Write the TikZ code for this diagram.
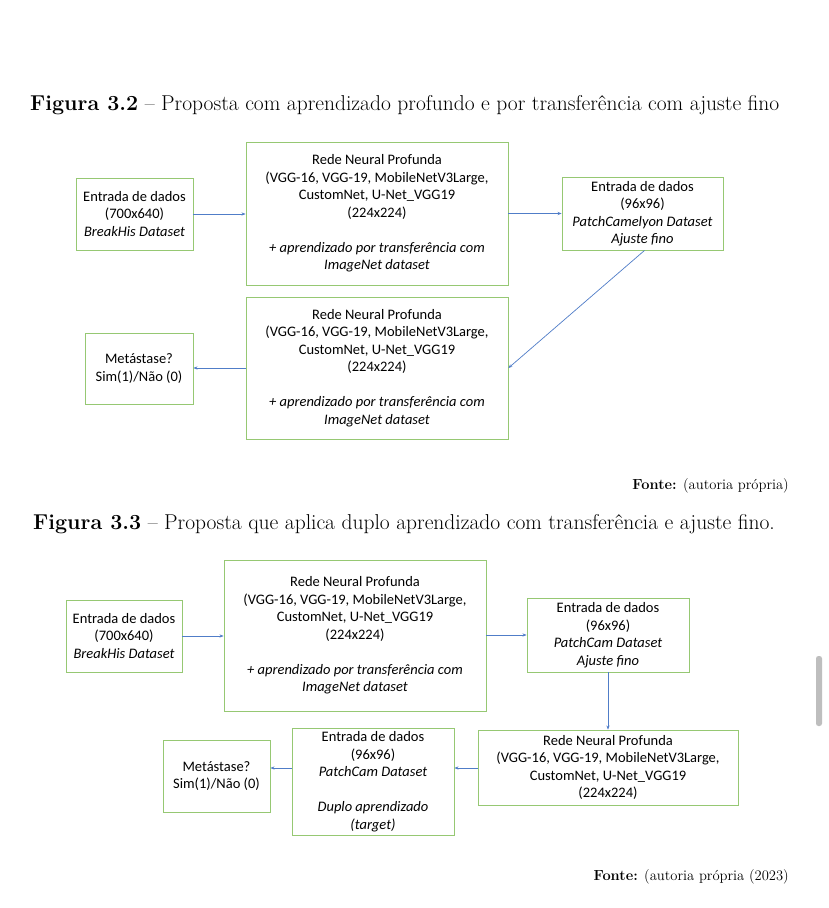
\documentclass[tikz,border=0pt]{standalone}
\usepackage{fontspec}
\newfontfamily\boxfont{Carlito}
\usetikzlibrary{arrows.meta}
\definecolor{boxgreen}{RGB}{150,200,115}
\definecolor{arrblue}{RGB}{80,125,200}
\definecolor{scrollgray}{RGB}{190,190,190}
\tikzset{
  box/.style={draw=boxgreen, line width=0.9pt, align=center, font=\boxfont\fontsize{14.5}{17.5}\selectfont, inner sep=0pt, anchor=center},
  conn/.style={draw=arrblue, line width=0.7pt, -{Stealth[length=4pt,width=3.2pt]}},
  caption/.style={font=\fontsize{21.5}{24}\selectfont, anchor=base west, inner sep=0pt},
  source/.style={font=\fontsize{14.6}{16}\selectfont, anchor=base east, inner sep=0pt}
}
\begin{document}
\begin{tikzpicture}[x=1pt,y=-1pt]
\useasboundingbox (0,0) rectangle (828,908);
\fill[white] (0,0) rectangle (828,908);

% Figure 3.2
\node[caption] (cap1) at (30,110) {\textbf{Figura 3.2} -- Proposta com aprendizado profundo e por transferência com ajuste fino};

\node[box, minimum width=117pt, minimum height=72pt] (A1) at (134.5,214) {Entrada de dados\\(700x640)\\\textit{BreakHis Dataset}};
\node[box, minimum width=262pt, minimum height=143pt] (B1) at (377,213.5) {Rede Neural Profunda\\(VGG-16, VGG-19, MobileNetV3Large,\\CustomNet, U-Net\_VGG19\\(224x224)\\[17.5pt]\textit{+ aprendizado por transferência com}\\\textit{ImageNet dataset}};
\node[box, minimum width=161pt, minimum height=73pt] (C1) at (642.5,213.5) {Entrada de dados\\(96x96)\\\textit{PatchCamelyon Dataset}\\\textit{Ajuste fino}};
\node[box, minimum width=262pt, minimum height=142pt] (D1) at (377,368) {Rede Neural Profunda\\(VGG-16, VGG-19, MobileNetV3Large,\\CustomNet, U-Net\_VGG19\\(224x224)\\[17.5pt]\textit{+ aprendizado por transferência com}\\\textit{ImageNet dataset}};
\node[box, minimum width=108pt, minimum height=71pt] (E1) at (139,368.5) {Metástase?\\Sim(1)/Não (0)};

\draw[conn] (A1.east) -- (A1.east -| B1.west);
\draw[conn] (B1.east |- C1.west) -- (C1.west);
\draw[conn] ([xshift=2pt]C1.south) -- (D1.east);
\draw[conn] (D1.west) -- (D1.west -| E1.east);

\node[source] (src1) at (789,489) {\textbf{Fonte:} (autoria própria)};

% Figure 3.3
\node[caption] (cap2) at (33,529) {\textbf{Figura 3.3} -- Proposta que aplica duplo aprendizado com transferência e ajuste fino.};

\node[box, minimum width=116pt, minimum height=72pt] (A2) at (124,636) {Entrada de dados\\(700x640)\\\textit{BreakHis Dataset}};
\node[box, minimum width=262pt, minimum height=151pt] (B2) at (355,635.5) {Rede Neural Profunda\\(VGG-16, VGG-19, MobileNetV3Large,\\CustomNet, U-Net\_VGG19\\(224x224)\\[17.5pt]\textit{+ aprendizado por transferência com}\\\textit{ImageNet dataset}};
\node[box, minimum width=162pt, minimum height=74pt] (C2) at (608,635) {Entrada de dados\\(96x96)\\\textit{PatchCam Dataset}\\\textit{Ajuste fino}};
\node[box, minimum width=260pt, minimum height=75pt] (D2) at (608,767.5) {Rede Neural Profunda\\(VGG-16, VGG-19, MobileNetV3Large,\\CustomNet, U-Net\_VGG19\\(224x224)};
\node[box, minimum width=162pt, minimum height=107pt] (E2) at (373,781.5) {Entrada de dados\\(96x96)\\\textit{PatchCam Dataset}\\[17.5pt]\textit{Duplo aprendizado}\\\textit{(target)}};
\node[box, minimum width=107pt, minimum height=72pt] (F2) at (216.5,776) {Metástase?\\Sim(1)/Não (0)};

\draw[conn] (A2.east) -- (A2.east -| B2.west);
\draw[conn] (B2.east |- C2.west) -- (C2.west);
\draw[conn] (C2.south) -- (D2.north);
\coordinate (d2w) at (D2.west |- 0,768);
\draw[conn] (d2w) -- (d2w -| E2.east);
\draw[conn] (E2.west |- 0,768) -- (F2.east |- 0,768);

\node[source] (src2) at (789,880) {\textbf{Fonte:} (autoria própria (2023)};

% scrollbar
\fill[scrollgray, rounded corners=2.5pt] (816,656) rectangle (822,726);
\end{tikzpicture}
\end{document}
